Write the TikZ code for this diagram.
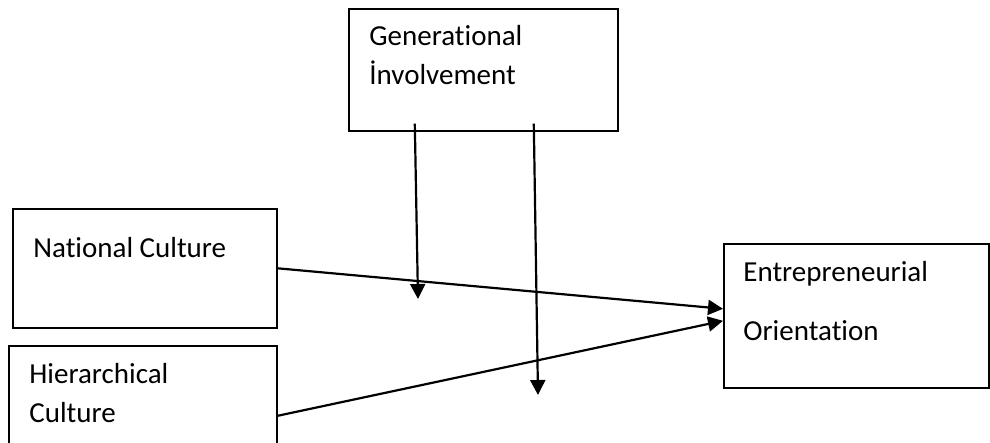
\documentclass[tikz,border=0pt]{standalone}
\usepackage{fontspec}
\setmainfont[Ligatures={NoCommon,NoRequired,NoContextual}]{Carlito}
\usetikzlibrary{positioning}
\usetikzlibrary{arrows.meta}
\usetikzlibrary{calc}

\begin{document}
\begin{tikzpicture}[x=0.5pt, y=-0.5pt,
	box/.style={draw=black, line width=0.8pt, rectangle, inner sep=0pt, anchor=north west},
	txt/.style={anchor=base west, inner sep=0pt, font=\fontsize{14.5}{17}\selectfont},
	arr/.style={line width=1.1pt, -{Triangle[length=7.5pt, width=7.5pt]}}]

	\useasboundingbox (0,0) rectangle (990,443);

	% boxes
	\node[box, minimum width=134.5pt, minimum height=61pt] (gi) at (348,8) {};
	\node[box, minimum width=132pt, minimum height=59.5pt] (nc) at (12,208) {};
	\node[box, minimum width=134pt, minimum height=70pt] (hc) at (8,345) {};
	\node[box, minimum width=132.5pt, minimum height=72pt] (eo) at (723,243) {};

	% labels
	\node[txt] (gi1) at (369,46) {Generational};
	\node[txt] (gi2) at (369,85) {İnvolvement};
	\node[txt] (nc1) at (33,257) {National Culture};
	\node[txt] (hc1) at (29,383) {Hierarchical};
	\node[txt] (hc2) at (29,422) {Culture};
	\node[txt] (eo1) at (743,282) {Entrepreneurial};
	\node[txt] (eo2) at (743,340) {Orientation};

	% arrows
	\draw[arr] (nc.east) -- ([yshift=3.5pt]eo.west);
	\draw[arr] (hc.east) -- ([yshift=-2.5pt]eo.west);

	% moderator
	\coordinate (m1) at (418,299);
	\coordinate (m2) at (538,395);

	\draw[arr] ($(gi.south)+(-68.5,-8)$) -- (m1);
	\draw[arr] ($(gi.south)+(50.5,-8)$) -- (m2);

\end{tikzpicture}
\end{document}
